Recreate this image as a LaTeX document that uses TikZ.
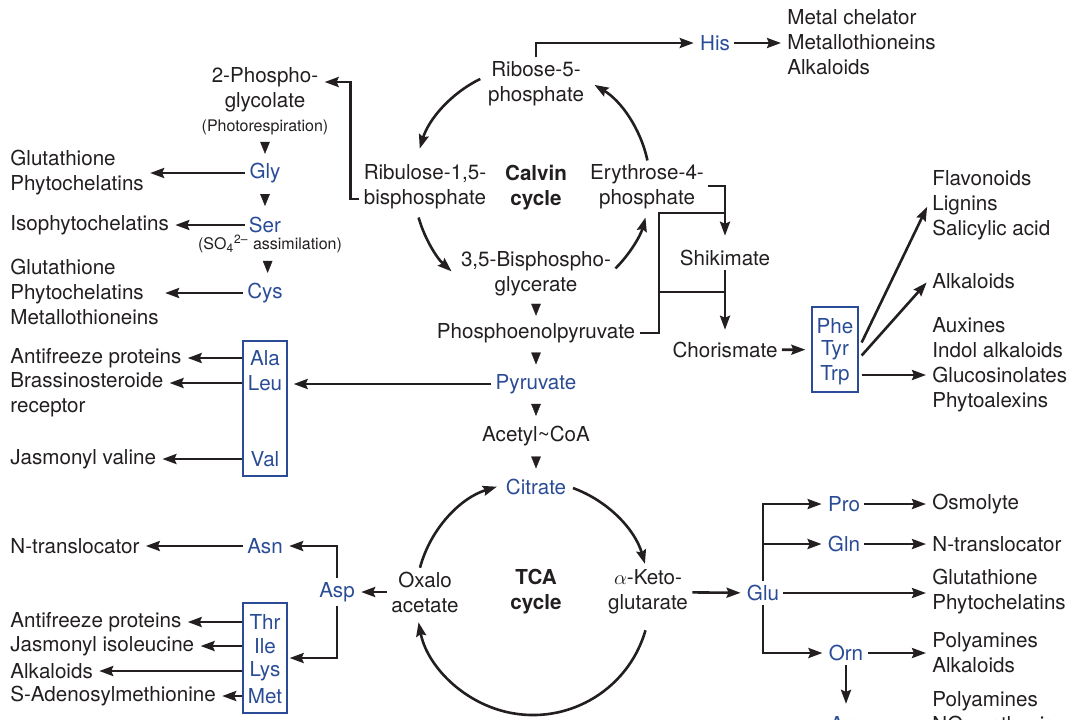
\documentclass[tikz,border=0pt]{standalone}
\usepackage{amsmath}
\usepackage{fontspec}
\setmainfont{TeX Gyre Heros}
\usetikzlibrary{arrows.meta}
\definecolor{ink}{RGB}{35,31,32}
\definecolor{aablue}{RGB}{42,76,150}

\begin{document}
\begin{tikzpicture}[x=0.5pt, y=-0.5pt,
  txt/.style={font=\fontsize{10.3}{12.5}\selectfont, text=ink, inner sep=2pt, align=center},
  aa/.style={txt, text=aablue},
  cyc/.style={txt, font=\fontsize{10.3}{12.5}\selectfont\bfseries},
  prod/.style={txt, align=left, anchor=west},
  small/.style={font=\fontsize{8}{9.6}\selectfont, text=ink, inner sep=1pt},
  aabox/.style={draw=aablue, line width=0.65pt, inner sep=0pt},
  ln/.style={draw=ink, line width=1.3pt},
  arr/.style={ln, -{Stealth[length=7pt,width=5pt,inset=1pt]}, shorten >=1pt},
  drop/.style={draw=ink, line width=0.2pt, -{Triangle[length=6pt,width=4.8pt]}}]
  \useasboundingbox (0,0) rectangle (1069,719);
  \clip (0,0) rectangle (1069,719);
  % centres of the two cycles
  \coordinate (calvinc) at (532,185);
  \coordinate (tcac) at (533,598);

  % Calvin cycle
  \node[txt] (r5p) at (536,84) {Ribose-5-\\phosphate};
  \node[txt] (rubp) at (425,187) {Ribulose-1,5-\\bisphosphate};
  \node[cyc] (calvin) at (536,188) {Calvin\\cycle};
  \node[txt] (e4p) at (647,187) {Erythrose-4-\\phosphate};
  \node[txt] (bpg) at (536,274) {3,5-Bisphospho-\\glycerate};
  \draw[arr] (calvinc) ++(-116:118) arc[start angle=-116, end angle=-163, radius=118];
  \draw[arr] (calvinc) ++(-196:118) arc[start angle=-196, end angle=-228, radius=118];
  \draw[arr] (calvinc) ++(45:118) arc[start angle=45, end angle=15, radius=118];
  \draw[arr] (calvinc) ++(-12:118) arc[start angle=-12, end angle=-59, radius=118];

  % main column
  \node[txt] (pep) at (536,333) {Phosphoenolpyruvate};
  \node[aa] (pyr) at (536,384) {Pyruvate};
  \node[txt] (acoa) at (536,436) {Acetyl\textasciitilde CoA};
  \node[aa] (cit) at (536,487) {Citrate};
  \path (bpg) -- coordinate (d4) (pep);
  \path (pep) -- coordinate (d5) (pyr);
  \path (pyr) -- coordinate (d6) (acoa);
  \path (acoa) -- coordinate (d7) (cit);

  % TCA cycle
  \node[txt] (oaa) at (425,592) {Oxalo\\acetate};
  \node[cyc] (tca) at (536,592) {TCA\\cycle};
  \node[txt] (akg) at (648,592) {$\alpha$-Keto-\\glutarate};
  \draw[arr] (tcac) ++(-70:117) arc[start angle=-70, end angle=-16, radius=117];
  \draw[arr] (tcac) ++(16:117) arc[start angle=16, end angle=169, radius=117];
  \draw[arr] (tcac) ++(-165:117) arc[start angle=-165, end angle=-107, radius=117];

  % His
  \node[aa] (his) at (715,43) {His};
  \node[prod] (hisp) at (783,42) {Metal chelator\\Metallothioneins\\Alkaloids};
  \draw[arr] (r5p.north) |- (his);
  \draw[arr] (his) -- (his -| hisp.west);

  % photorespiration and sulfur
  \node[txt] (pglyc) at (265,90) {2-Phospho-\\glycolate};
  \node[small] (photo) at (265,127) {(Photorespiration)};
  \node[aa] (gly) at (265,173) {Gly};
  \node[aa] (ser) at (265,225) {Ser};
  \node[small] (sersub) at (270,244) {(SO$_{\text{4}}{}^{\text{2–}}$ assimilation)};
  \node[aa] (cys) at (265,293) {Cys};
  \node[prod] (glyp) at (6,173) {Glutathione\\Phytochelatins};
  \node[prod] (serp) at (6,225) {Isophytochelatins};
  \node[prod] (cysp) at (6,292) {Glutathione\\Phytochelatins\\Metallothioneins};
  \draw[arr] ([yshift=-6pt]rubp.west) -- ++(-9,0) |- ([yshift=4pt]pglyc.east);
  \path (photo) -- coordinate (d1) (gly);
  \path (gly) -- coordinate (d2) (ser);
  \path (sersub) -- coordinate (d3) (cys);
  \draw[arr] (gly) -- (gly -| glyp.east);
  \draw[arr] (ser) -- (ser -| serp.east);
  \draw[arr] (cys) -- (cys -| cysp.east);

  % step marks between the stacked names
  \foreach \d in {d1,d2,d3,d4,d5,d6,d7}
    \draw[drop] ([yshift=3pt]\d) -- ([yshift=-3pt]\d);

  % Ala, Leu, Val
  \node[aabox, minimum width=22pt, minimum height=67.5pt] (bcaa) at (265,408.5) {};
  \node[aa] (ala) at (265,358) {Ala};
  \node[aa] (leu) at (265,383) {Leu};
  \node[aa] (val) at (265,459) {Val};
  \node[prod] (alap) at (6,358) {Antifreeze proteins};
  \node[prod] (leup) at (6,395) {Brassinosteroide\\receptor};
  \node[prod] (valp) at (6,459) {Jasmonyl valine};
  \draw[arr, shorten >=3pt] (pyr) -- (pyr -| bcaa.east);
  \draw[arr] (ala -| bcaa.west) -- (ala -| alap.east);
  \draw[arr] (leu -| bcaa.west) -- (leu -| leup.east);
  \draw[arr] (val -| bcaa.west) -- (val -| valp.east);

  % shikimate pathway
  \node[txt] (shik) at (725,258) {Shikimate};
  \node[txt] (chor) at (725,350) {Chorismate};
  \coordinate (e4pout) at (708,186);
  \coordinate (j1) at (725,213);
  \coordinate (j2) at (725,292);
  \coordinate (bend) at (659,292);
  \draw[arr, shorten >=5pt] (e4pout) -| (shik);
  \draw[ln] (pep.east) -| (bend) |- (j1);
  \draw[ln] (bend) -- (j2);
  \draw[arr, shorten >=4pt] (shik) -- (chor);

  % Phe, Tyr, Trp
  \node[aabox, minimum width=23pt, minimum height=42.5pt] (arom) at (835,349.5) {};
  \node[aa] (phe) at (835,326) {Phe};
  \node[aa] (tyr) at (835,350) {Tyr};
  \node[aa] (trp) at (835,375) {Trp};
  \node[prod] (flav) at (928,205) {Flavonoids\\Lignins\\Salicylic acid};
  \node[prod] (alk1) at (928,281) {Alkaloids};
  \node[prod] (aux) at (928,365) {Auxines\\Indol alkaloids\\Glucosinolates\\Phytoalexins};
  \draw[arr, shorten >=3pt] (chor) -- (arom);
  \draw[arr] ([shift={(3,-7)}]arom.east) -- (flav.west);
  \draw[arr] ([shift={(3,6)}]arom.east) -- (alk1.west);
  \draw[arr] ([xshift=1.5pt]trp -| arom.east) -- (trp -| aux.west);

  % Asp family
  \node[aa] (asp) at (337,592) {Asp};
  \node[aa] (asn) at (265,546) {Asn};
  \node[prod] (asnp) at (6,546) {N-translocator};
  \node[aabox, minimum width=22pt, minimum height=55pt] (asfam) at (265,658) {};
  \node[aa] (thr) at (265,622) {Thr};
  \node[aa] (ile) at (265,646) {Ile};
  \node[aa] (lys) at (265,671) {Lys};
  \node[aa] (met) at (265,696) {Met};
  \node[prod] (thrp) at (6,622) {Antifreeze proteins};
  \node[prod] (ilep) at (6,646) {Jasmonyl isoleucine};
  \node[prod] (lysp) at (6,671) {Alkaloids};
  \node[prod] (metp) at (6,696) {S-Adenosylmethionine};
  \draw[arr] (oaa) -- (asp);
  \draw[arr] (asp.north) |- (asn);
  \draw[arr] (asn) -- (asn -| asnp.east);
  \draw[arr] (asp.south) |- (asfam.east);
  \draw[arr] (thr -| asfam.west) -- (thr -| thrp.east);
  \draw[arr] (ile -| asfam.west) -- (ile -| ilep.east);
  \draw[arr] (lys -| asfam.west) -- (lys -| lysp.east);
  \draw[arr] (met -| asfam.west) -- (met -| metp.east);

  % Glu family
  \node[aa] (glu) at (763,593) {Glu};
  \node[aa] (pro) at (844,504) {Pro};
  \node[aa] (gln) at (844,544) {Gln};
  \node[aa] (orn) at (846,653) {Orn};
  \node[aa] (arg) at (846,726) {Arg};
  \node[prod] (prop) at (928,504) {Osmolyte};
  \node[prod] (glnp) at (928,544) {N-translocator};
  \node[prod] (glup) at (928,592) {Glutathione\\Phytochelatins};
  \node[prod] (ornp) at (928,653) {Polyamines\\Alkaloids};
  \node[prod] (argp) at (928,714) {Polyamines\\NO synthesis};
  \draw[arr] (akg) -- (glu);
  \draw[arr] (glu.north) |- (pro);
  \draw[arr] (glu.north |- gln) -- (gln);
  \draw[arr] (glu) -- (glu -| glup.west);
  \draw[arr] (glu.south) |- (orn);
  \draw[arr] (pro) -- (pro -| prop.west);
  \draw[arr] (gln) -- (gln -| glnp.west);
  \draw[arr] (orn) -- (orn -| ornp.west);
  \draw[arr, shorten >=4pt] (orn) -- (arg);
\end{tikzpicture}
\end{document}
